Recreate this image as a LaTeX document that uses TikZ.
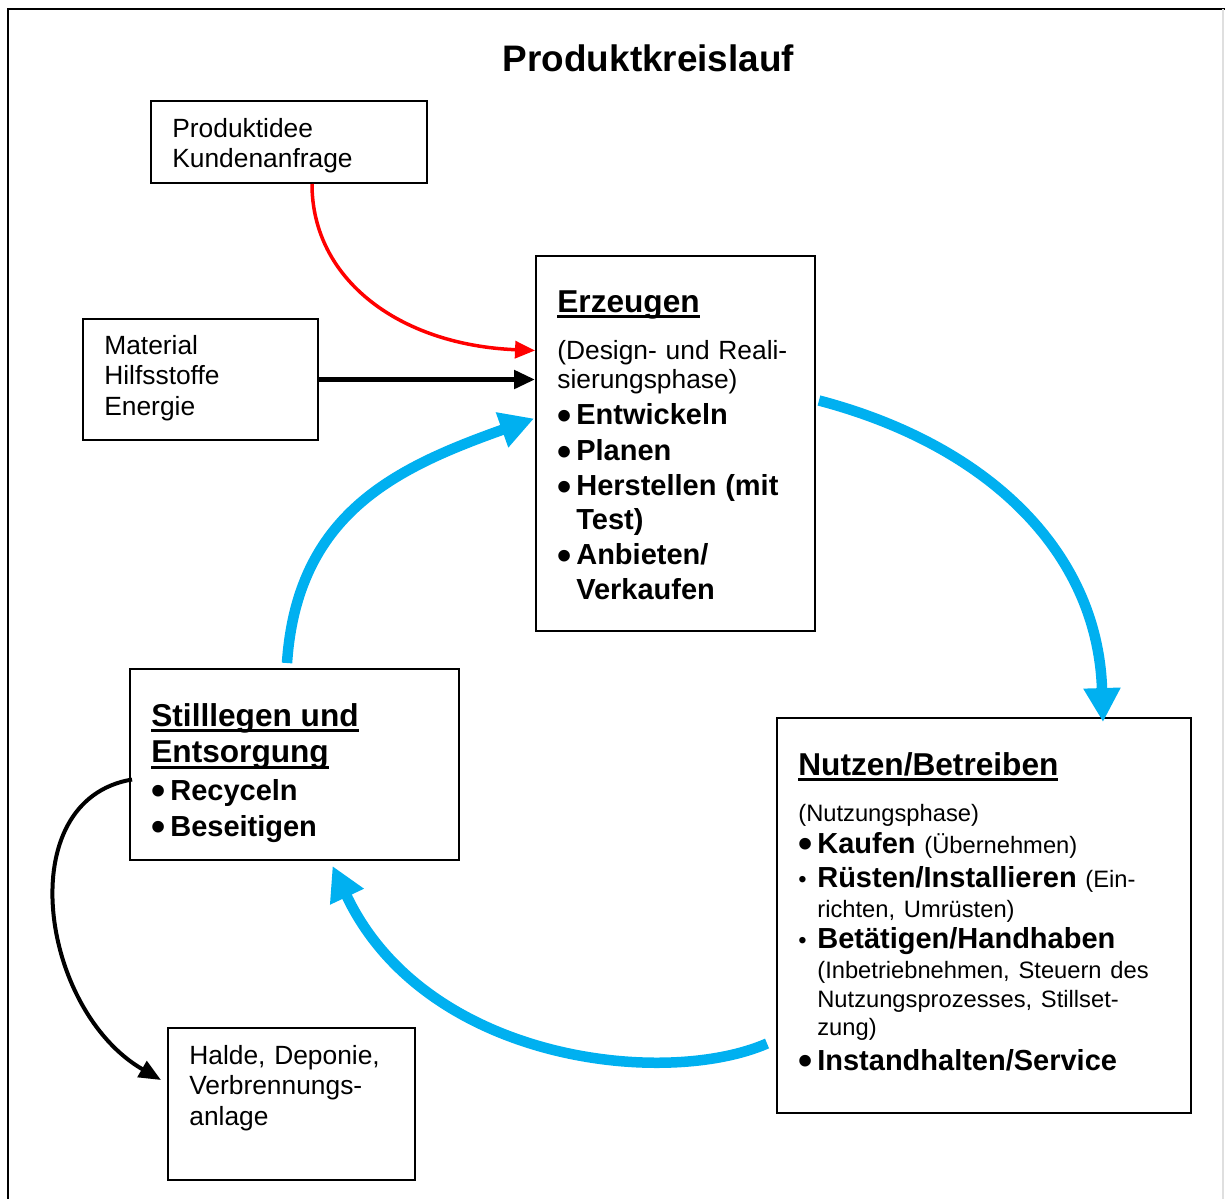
\documentclass[tikz,border=0pt]{standalone}
\usepackage{fontspec}
\setmainfont{Liberation Sans}
\usetikzlibrary{arrows.meta,calc}

\definecolor{cycleblue}{RGB}{0,176,240}

\newcommand{\tight}{\baselineskip=0pt\lineskiplimit=-\maxdimen\relax}
\newcommand{\headfont}{\fontsize{18}{0}\selectfont\bfseries}
\newcommand{\itemfont}{\fontsize{16.5}{0}\selectfont\bfseries}
\newcommand{\notefont}{\fontsize{13.5}{0}\selectfont}
\newcommand{\bul}{\makebox[0.38cm][l]{\fontsize{23}{0}\selectfont\raisebox{-2.6pt}[0pt][0pt]{\textbullet}}}
\newcommand{\smallbul}{\makebox[0.38cm][l]{\notefont\textbullet}}
\newcommand{\hdul}[1]{\leavevmode\setbox0=\hbox{#1}\rlap{\rule[-0.12cm]{\wd0}{0.06cm}}\box0}

\tikzset{
  box/.style={draw, line width=0.04cm, inner sep=0pt},
  txt/.style={anchor=base west, inner sep=0pt, align=left, text width=#1, font=\fontsize{15}{0}\selectfont},
  cyclearr/.style={draw=cycleblue, line width=0.21cm, -{Triangle[length=0.68cm,width=0.7cm]}},
  inarr/.style={line width=0.07cm, -{Triangle[length=0.4cm,width=0.34cm]}}
}

\begin{document}
\begin{tikzpicture}[x=0.02cm, y=-0.02cm]
  \useasboundingbox (0,0) rectangle (1225,1198);
  % frame
  \draw[line width=0.045cm] (8,1210) -- (8,9) -- (1225,9);
  \draw[gray!25, line width=0.03cm] (1223,9) -- (1223,1210);

  \node[anchor=base, font=\fontsize{21}{25}\selectfont\bfseries] (title) at (648.5,71) {Produktkreislauf};

  % boxes
  \node[box, minimum width=5.52cm, minimum height=1.64cm] (prod) at (289,142) {};
  \node[box, minimum width=4.7cm, minimum height=2.42cm] (mat) at (200.5,379.5) {};
  \node[box, minimum width=5.58cm, minimum height=7.5cm] (erz) at (675.5,443.5) {};
  \node[box, minimum width=8.28cm, minimum height=7.9cm] (nutz) at (984,915.5) {};
  \node[box, minimum width=6.58cm, minimum height=3.82cm] (still) at (294.5,764.5) {};
  \node[box, minimum width=4.94cm, minimum height=3.04cm] (halde) at (291.5,1104) {};

  % texts
  \node[txt=5cm] (prodtxt) at (172,137) {\tight Produktidee\\[17.6pt] Kundenanfrage\par};
  \node[txt=4cm] (mattxt) at (104,354) {\tight Material\\[17.4pt] Hilfsstoffe\\[17.4pt] Energie\par};
  \node[txt=6cm] (erztxt) at (557,312) {\tight
    {\headfont\hdul{Erzeugen}}\\[27.2pt]
    (Design- und Reali-\\[16.2pt]
    sierungsphase)\\[20.8pt]
    {\itemfont\bul Entwickeln}\\[20.3pt]
    {\itemfont\bul Planen}\\[20pt]
    {\itemfont\bul Herstellen (mit}\\[19.4pt]
    {\itemfont\hspace*{0.38cm}Test)}\\[19.8pt]
    {\itemfont\bul Anbieten/}\\[19.8pt]
    {\itemfont\hspace*{0.38cm}Verkaufen}\par};
  \node[txt=8cm] (nutztxt) at (798,775) {\tight
    {\headfont\hdul{Nutzen/Betreiben}}\\[26.4pt]
    {\notefont (Nutzungsphase)}\\[18.2pt]
    {\itemfont\bul Kaufen} {\notefont (Übernehmen)}\\[19.4pt]
    \smallbul{\itemfont Rüsten/Installieren} {\notefont (Ein-}\\[17pt]
    {\notefont\hspace*{0.38cm}richten, Umrüsten)}\\[18pt]
    \smallbul{\itemfont Betätigen/Handhaben}\\[17pt]
    {\notefont\hspace*{0.38cm}(Inbetriebnehmen, Steuern des}\\[16.4pt]
    {\notefont\hspace*{0.38cm}Nutzungsprozesses, Stillset-}\\[15.9pt]
    {\notefont\hspace*{0.38cm}zung)}\\[19.6pt]
    {\itemfont\bul Instandhalten/Service}\par};
  \node[txt=6cm] (stilltxt) at (151,726) {\tight
    {\headfont\hdul{Stilllegen und}}\\[20.8pt]
    {\headfont\hdul{Entsorgung}}\\[21.4pt]
    {\itemfont\bul Recyceln}\\[20.6pt]
    {\itemfont\bul Beseitigen}\par};
  \node[txt=4.5cm] (haldetxt) at (189,1064) {\tight Halde, Deponie,\\[17.6pt] Verbrennungs-\\[17.6pt] anlage\par};

  % inputs
  \draw[inarr, red] ($(prod.south)+(23,0)$) .. controls (312,280) and (400,345) .. ($(erz.west)+(0,-93)$);
  \draw[inarr, line width=0.1cm, -{Triangle[length=0.42cm,width=0.36cm]}] (mat.east) -- (mat.east -| erz.west);

  % cycle
  \draw[cyclearr] ($(erz.east)+(3,-43)$) .. controls (988,445) and (1098,552) .. ($(nutz.north)+(119,5)$);
  \draw[cyclearr] ($(nutz.west)+(-9,128)$) .. controls (665,1088) and (425,1062) .. ($(still.south)+(38,5)$);
  \draw[cyclearr] ($(still.north)+(-7.5,-5)$) .. controls (297,514) and (395,468) .. ($(erz.west)+(-1,-25)$);

  % disposal
  \draw[inarr, line width=0.08cm, -{Triangle[length=0.44cm,width=0.36cm]}] ($(still.west)+(3,15)$) .. controls (10,800) and (40,1010) .. ($(halde.west)+(-6,-24)$);
\end{tikzpicture}
\end{document}
